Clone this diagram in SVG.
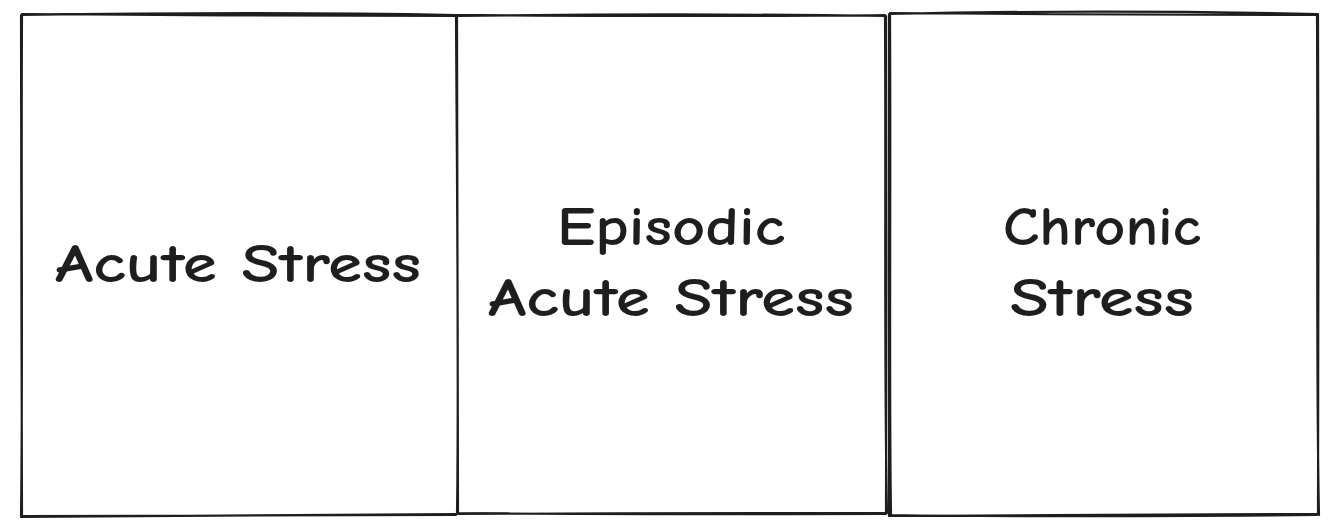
<svg xmlns="http://www.w3.org/2000/svg" width="1344" height="532" viewBox="0 0 1344 532">
<style>
.box{fill:none;stroke:#1e1e1e;stroke-width:2.2;stroke-linecap:round;stroke-linejoin:round}
.t{font-family:"Comic Neue","Liberation Sans",sans-serif;font-weight:700;font-size:54px;fill:#1e1e1e;text-anchor:middle}
</style>
<rect width="1344" height="532" fill="#ffffff"/>
<g id="acute">
<path class="box" d="M21 15 C150 13 300 12 456 15 M22 14 C160 16 320 15 455 16 M21 15 C22 180 21 350 22 517 M22 16 C21 200 23 380 21 516 M21 517 C160 516 300 516 457 514 M22 516 C150 515 320 516 456 515"/>
<text class="t" x="238" y="282" textLength="366" lengthAdjust="spacingAndGlyphs">Acute Stress</text>
</g>
<g id="episodic">
<path class="box" d="M457 16 C600 14 750 14 886 16 M456 15 C620 16 760 17 885 15 M457 16 C458 180 457 350 458 514 M456 15 C457 200 459 380 457 513 M886 16 C887 180 886 350 886 514 M885 15 C886 200 884 380 887 513 M458 514 C600 513 750 513 886 513 M457 513 C620 515 760 514 885 514"/>
<text class="t" x="671" y="245" textLength="228" lengthAdjust="spacingAndGlyphs">Episodic</text>
<text class="t" x="671" y="316" textLength="366" lengthAdjust="spacingAndGlyphs">Acute Stress</text>
</g>
<g id="chronic">
<path class="box" d="M889 14 C1020 11 1180 11 1318 14 M890 13 C1030 15 1190 14 1317 15 M889 14 C888 180 890 350 889 516 M890 15 C891 200 889 380 891 515 M1318 14 C1319 180 1318 350 1318 514 M1317 15 C1318 200 1316 380 1319 515 M889 516 C1030 515 1190 515 1318 514 M891 515 C1020 517 1190 516 1317 515"/>
<text class="t" x="1102" y="245" textLength="198" lengthAdjust="spacingAndGlyphs">Chronic</text>
<text class="t" x="1102" y="316" textLength="184" lengthAdjust="spacingAndGlyphs">Stress</text>
</g>
<g id="connectors"/>
</svg>
